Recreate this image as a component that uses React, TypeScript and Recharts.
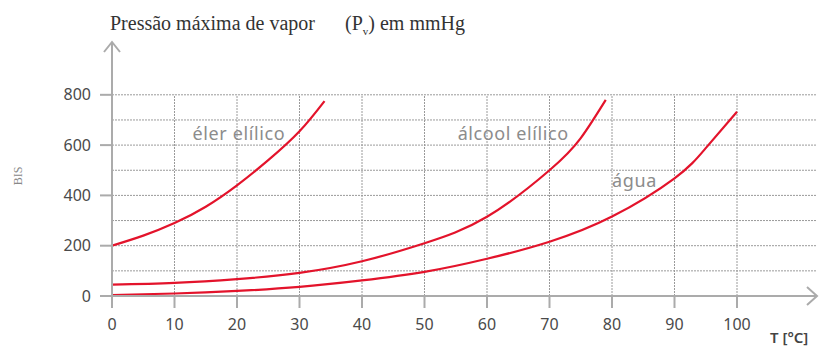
import React from "react";
import {
  LineChart,
  Line,
  XAxis,
  YAxis,
  CartesianGrid,
  ReferenceLine,
  ReferenceDot,
} from "recharts";

// Temperatures (°C) and maximum vapour pressures (mmHg)
const etherT = [0, 5, 10, 15, 20, 25, 30, 34];
const etherP = [200, 240, 290, 355, 440, 540, 655, 775];
const alcoholT = [0, 10, 20, 30, 40, 50, 60, 70, 75, 79];
const alcoholP = [45, 52, 67, 92, 138, 210, 315, 500, 628, 780];
const waterT = [0, 10, 20, 30, 40, 50, 60, 70, 80, 90, 95, 100];
const waterP = [4, 10, 20, 36, 62, 96, 148, 216, 316, 468, 588, 733];

const xTicks = [0, 10, 20, 30, 40, 50, 60, 70, 80, 90, 100];
const yTicks = [0, 200, 400, 600, 800];
const gridY = [100, 200, 300, 400, 500, 600, 700, 800];
const gridX = [10, 20, 30, 40, 50, 60, 70, 80, 90, 100];

const curveLabels = [
  { text: "éler elílico", x: 20.3, y: 650 },
  { text: "álcool elílico", x: 64.2, y: 650 },
  { text: "água", x: 83.6, y: 462 },
];

const X_MAX = 112.8;
const Y_MAX = 1010;

const toRows = (t: number[], p: number[]) => t.map((x, i) => ({ t: x, p: p[i] }));
const etherData = toRows(etherT, etherP);
const alcoholData = toRows(alcoholT, alcoholP);
const waterData = toRows(waterT, waterP);

const RED = "#e3132b";
const AXIS = "#ababab";
const GRID = "#9a9a9a";
const TICK_FONT = "'Noto Sans', sans-serif";

const ArrowRight = (props: any) => {
  const { cx, cy } = props;
  return (
    <path
      d={`M${cx - 10},${cy - 9} L${cx},${cy} L${cx - 10},${cy + 9}`}
      fill="none"
      stroke={AXIS}
      strokeWidth={2}
    />
  );
};

const ArrowUp = (props: any) => {
  const { cx, cy } = props;
  return (
    <path
      d={`M${cx - 8},${cy + 10} L${cx},${cy} L${cx + 8},${cy + 10}`}
      fill="none"
      stroke={AXIS}
      strokeWidth={2}
    />
  );
};

const makeLabelShape = (text: string) => (props: any) => {
  const { cx, cy } = props;
  return (
    <text
      x={cx}
      y={cy}
      textAnchor="middle"
      dominantBaseline="central"
      fill="#8c8c8c"
      fontSize={18}
      letterSpacing={0.6}
      fontFamily={TICK_FONT}
    >
      {text}
    </text>
  );
};

export default function App() {
  return (
    <div style={{ position: "fixed", left: 0, top: 0, width: 822, height: 347, background: "#fff" }}>
      <LineChart
        width={822}
        height={347}
        margin={{ top: 42, right: 5, bottom: 0, left: 0 }}
      >
        <CartesianGrid
          vertical={false}
          horizontalValues={gridY}
          stroke={GRID}
          strokeDasharray="2 1"
        />
        {gridX.map((x) => (
          <ReferenceLine
            key={x}
            segment={[
              { x, y: 0 },
              { x, y: 800 },
            ]}
            stroke={GRID}
            strokeDasharray="2 1"
          />
        ))}
        <XAxis
          type="number"
          dataKey="t"
          domain={[0, X_MAX]}
          ticks={xTicks}
          allowDataOverflow
          height={51}
          axisLine={{ stroke: AXIS, strokeWidth: 2 }}
          tickLine={{ stroke: AXIS, strokeWidth: 2 }}
          tickSize={12}
          tickMargin={11}
          tick={{ fill: "#4a4a4a", fontSize: 16, fontFamily: TICK_FONT }}
        />
        <YAxis
          type="number"
          dataKey="p"
          domain={[0, Y_MAX]}
          ticks={yTicks}
          allowDataOverflow
          width={112}
          axisLine={{ stroke: AXIS, strokeWidth: 2 }}
          tickLine={{ stroke: AXIS, strokeWidth: 2 }}
          tickSize={12}
          tickMargin={9}
          tick={{ fill: "#4a4a4a", fontSize: 16, fontFamily: TICK_FONT }}
        />
        <Line data={etherData} dataKey="p" type="natural" stroke={RED} strokeWidth={2.2} dot={false} isAnimationActive={false} />
        <Line data={alcoholData} dataKey="p" type="natural" stroke={RED} strokeWidth={2.2} dot={false} isAnimationActive={false} />
        <Line data={waterData} dataKey="p" type="natural" stroke={RED} strokeWidth={2.2} dot={false} isAnimationActive={false} />
        <ReferenceDot x={X_MAX} y={0} r={0} ifOverflow="visible" shape={ArrowRight} />
        <ReferenceDot x={0} y={Y_MAX} r={0} ifOverflow="visible" shape={ArrowUp} />
        {curveLabels.map((l) => (
          <ReferenceDot key={l.text} x={l.x} y={l.y} r={0} ifOverflow="visible" shape={makeLabelShape(l.text)} />
        ))}
      </LineChart>
      <svg
        width={822}
        height={347}
        style={{ position: "absolute", left: 0, top: 0, pointerEvents: "none" }}
      >
        <text x={110} y={30} fontFamily="'Liberation Serif', serif" fontSize={20} fill="#333">
          Pressão máxima de vapor
        </text>
        <text x={345} y={30} fontFamily="'Liberation Serif', serif" fontSize={20} fill="#333">
          (P
          <tspan fontSize={11} dy={5}>v</tspan>
          <tspan dy={-5}>) em mmHg</tspan>
        </text>
        <text
          x={0}
          y={0}
          transform="translate(22,176) rotate(-90)"
          textAnchor="middle"
          fontFamily="'Liberation Serif', serif"
          fontSize={12}
          fill="#888"
        >
          BIS
        </text>
        <text x={770} y={343} fontFamily={TICK_FONT} fontSize={15} fontWeight={600} fill="#444">
          T [°C]
        </text>
      </svg>
    </div>
  );
}
